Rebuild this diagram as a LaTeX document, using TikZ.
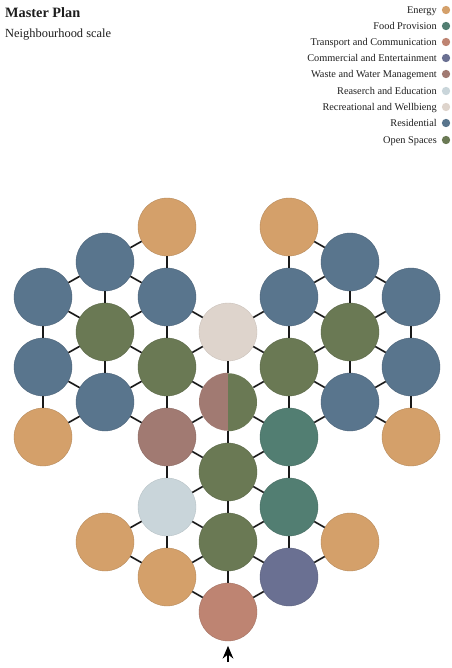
\documentclass[tikz,border=0pt]{standalone}
\usepackage{fontspec}
\setmainfont{Liberation Serif}
\usepackage{tikz}
\usetikzlibrary{arrows.meta,positioning}
\definecolor{cEnergy}{RGB}{212,160,106}
\definecolor{cFood}{RGB}{82,126,114}
\definecolor{cTransport}{RGB}{190,132,114}
\definecolor{cCommerce}{RGB}{106,112,146}
\definecolor{cWaste}{RGB}{161,122,114}
\definecolor{cResearch}{RGB}{201,213,218}
\definecolor{cRecreation}{RGB}{222,212,204}
\definecolor{cResidential}{RGB}{89,117,141}
\definecolor{cOpen}{RGB}{106,121,84}
\definecolor{cText}{RGB}{30,30,30}
\tikzset{
  hub/.style={circle, minimum size=1.74cm, inner sep=0pt},
  energy/.style={hub, fill=cEnergy, draw=cEnergy!85!black, line width=0.3pt},
  food/.style={hub, fill=cFood, draw=cFood!85!black, line width=0.3pt},
  transport/.style={hub, fill=cTransport, draw=cTransport!85!black, line width=0.3pt},
  commerce/.style={hub, fill=cCommerce, draw=cCommerce!85!black, line width=0.3pt},
  research/.style={hub, fill=cResearch, draw=cResearch!90!black, line width=0.3pt},
  recreation/.style={hub, fill=cRecreation, draw=cRecreation!90!black, line width=0.3pt},
  residential/.style={hub, fill=cResidential, draw=cResidential!85!black, line width=0.3pt},
  openspace/.style={hub, fill=cOpen, draw=cOpen!85!black, line width=0.3pt},
  link/.style={line width=1.4pt, black!90},
  legtext/.style={anchor=base east, inner sep=0pt, text=cText, font=\fontsize{8.8}{10}\selectfont},
  legdot/.style={circle, minimum size=0.25cm, inner sep=0pt},
  entryarrow/.style={-{Stealth[length=0.38cm, width=0.32cm]}, line width=1.9pt, black}
}
\begin{document}
\begin{tikzpicture}[x=0.03cm, y=-0.03cm]
    \useasboundingbox (0,0) rectangle (452,668);
    % Title
    \node[anchor=base west, inner sep=0pt, text=cText, font=\fontsize{12.2}{14}\selectfont\bfseries] (title) at (5,17) {Master Plan};
    \node[anchor=base west, inner sep=0pt, text=cText, font=\fontsize{10.6}{12}\selectfont] (subtitle) at (5,37) {Neighbourhood scale};
    % Legend
    \node[legtext] (lgEnergy) at (437,13.5) {Energy};
    \node[legdot, fill=cEnergy] (dEnergy) at (446,10) {};
    \node[legtext] (lgFood) at (437,29.5) {Food Provision};
    \node[legdot, fill=cFood] (dFood) at (446,26) {};
    \node[legtext] (lgTransport) at (437,45.5) {Transport and Communication};
    \node[legdot, fill=cTransport] (dTransport) at (446,42) {};
    \node[legtext] (lgCommerce) at (437,61.5) {Commercial and Entertainment};
    \node[legdot, fill=cCommerce] (dCommerce) at (446,58) {};
    \node[legtext] (lgWaste) at (437,77.5) {Waste and Water Management};
    \node[legdot, fill=cWaste] (dWaste) at (446,74) {};
    \node[legtext] (lgResearch) at (437,94.5) {Reaserch and Education};
    \node[legdot, fill=cResearch] (dResearch) at (446,91) {};
    \node[legtext] (lgRecreation) at (437,110.5) {Recreational and Wellbieng};
    \node[legdot, fill=cRecreation] (dRecreation) at (446,107) {};
    \node[legtext] (lgResidential) at (437,126.5) {Residential};
    \node[legdot, fill=cResidential] (dResidential) at (446,123) {};
    \node[legtext] (lgOpen) at (437,143.5) {Open Spaces};
    \node[legdot, fill=cOpen] (dOpen) at (446,140) {};
    % Centre column
    \node[recreation] (rec) at (228,332) {};
    \node[hub] (mix) at (228,402) {};
    \node[openspace] (os5) at (228,472) {};
    \node[openspace] (os6) at (228,542) {};
    \node[transport] (tr) at (228,612) {};
    % Left wing
    \node[energy] (en1) at (167,227) {};
    \node[residential] (rs3) at (167,297) {};
    \node[openspace] (os2) at (167,367) {};
    \node[hub, fill=cWaste, draw=cWaste!85!black, line width=0.3pt] (ww) at (167,437) {};
    \node[research] (edu) at (167,507) {};
    \node[energy] (en4) at (167,577) {};
    \node[residential] (rs1) at (105,262) {};
    \node[openspace] (os1) at (105,332) {};
    \node[residential] (rs5) at (105,402) {};
    \node[energy] (en3) at (105,542) {};
    \node[residential] (rs2) at (43,297) {};
    \node[residential] (rs4) at (43,367) {};
    \node[energy] (en2) at (43,437) {};
    % Right wing
    \node[energy] (en5) at (289,227) {};
    \node[residential] (rs6) at (289,297) {};
    \node[openspace] (os3) at (289,367) {};
    \node[food] (fp1) at (289,437) {};
    \node[food] (fp2) at (289,507) {};
    \node[commerce] (com) at (289,577) {};
    \node[residential] (rs7) at (350,262) {};
    \node[openspace] (os4) at (350,332) {};
    \node[residential] (rs9) at (350,402) {};
    \node[energy] (en7) at (350,542) {};
    \node[residential] (rs8) at (411,297) {};
    \node[residential] (rs10) at (411,367) {};
    \node[energy] (en6) at (411,437) {};
    % Split hub, waste and open space
    \fill[cWaste] (mix.north) arc[start angle=90, end angle=270, radius=0.87cm] -- cycle;
    \fill[cOpen] (mix.south) arc[start angle=-90, end angle=90, radius=0.87cm] -- cycle;
    % Links, left wing
    \draw[link] (en1) -- (rs1) (en1) -- (rs3);
    \draw[link] (rs1) -- (rs2) (rs1) -- (rs3) (rs1) -- (os1);
    \draw[link] (rs2) -- (os1) (rs2) -- (rs4);
    \draw[link] (rs3) -- (os1) (rs3) -- (os2) (rs3) -- (rec);
    \draw[link] (os1) -- (rs4) (os1) -- (os2) (os1) -- (rs5);
    \draw[link] (rs4) -- (rs5) (rs4) -- (en2);
    \draw[link] (os2) -- (rs5) (os2) -- (ww) (os2) -- (rec) (os2) -- (mix);
    \draw[link] (rs5) -- (en2) (rs5) -- (ww);
    \draw[link] (ww) -- (mix) (ww) -- (os5) (ww) -- (edu);
    \draw[link] (edu) -- (os5) (edu) -- (os6) (edu) -- (en3) (edu) -- (en4);
    \draw[link] (en3) -- (en4) (en4) -- (os6) (en4) -- (tr);
    % Links, centre
    \draw[link] (rec) -- (mix) (mix) -- (os5) (os5) -- (os6) (os6) -- (tr);
    % Links, right wing
    \draw[link] (en5) -- (rs7) (en5) -- (rs6);
    \draw[link] (rs7) -- (rs8) (rs7) -- (rs6) (rs7) -- (os4);
    \draw[link] (rs8) -- (os4) (rs8) -- (rs10);
    \draw[link] (rs6) -- (os4) (rs6) -- (os3) (rs6) -- (rec);
    \draw[link] (os4) -- (rs10) (os4) -- (os3) (os4) -- (rs9);
    \draw[link] (rs10) -- (rs9) (rs10) -- (en6);
    \draw[link] (os3) -- (rs9) (os3) -- (fp1) (os3) -- (rec) (os3) -- (mix);
    \draw[link] (rs9) -- (en6) (rs9) -- (fp1);
    \draw[link] (fp1) -- (mix) (fp1) -- (os5) (fp1) -- (fp2);
    \draw[link] (fp2) -- (os5) (fp2) -- (os6) (fp2) -- (en7) (fp2) -- (com);
    \draw[link] (en7) -- (com) (com) -- (os6) (com) -- (tr);
    % Entry arrow
    \coordinate (entry) at (228,662);
    \draw[entryarrow, shorten >=4] (entry) -- (tr);
\end{tikzpicture}
\end{document}
